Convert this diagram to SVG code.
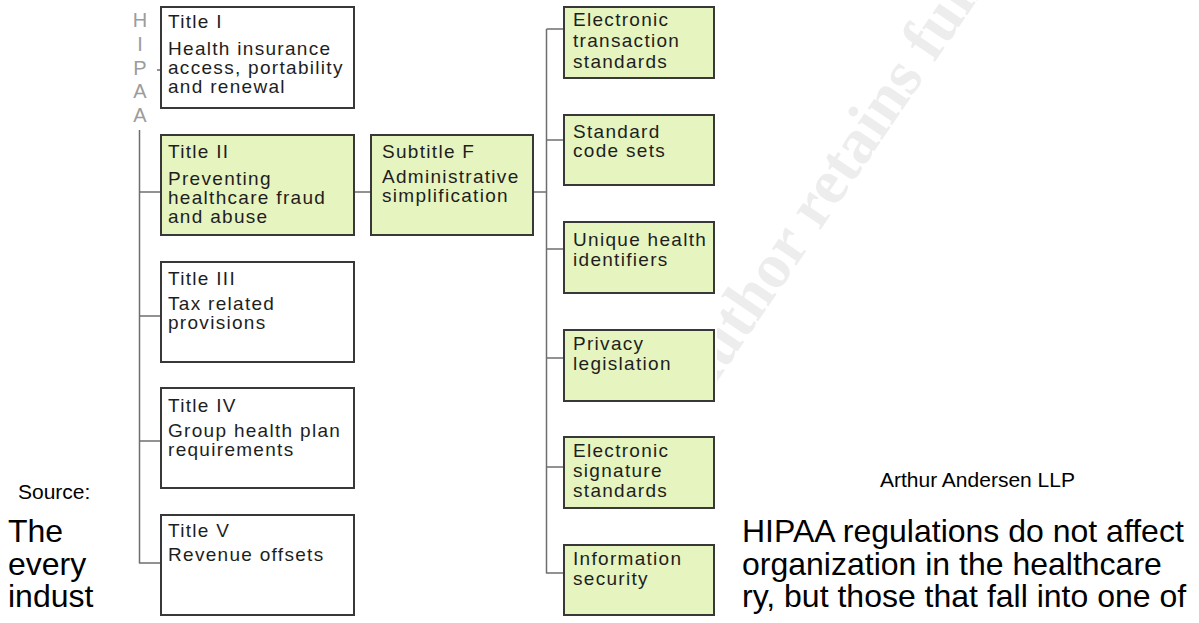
<svg xmlns="http://www.w3.org/2000/svg" width="1199" height="623" viewBox="0 0 1199 623">
<style>
.wm{font-family:"Liberation Serif","Times New Roman",serif;font-weight:bold;font-size:64px;fill:#ededed}
.box{stroke:#383838;stroke-width:2}
.g{fill:#e6f4bf}
.w{fill:#ffffff}
.t{font-family:"Liberation Sans",Arial,Helvetica,sans-serif;font-size:19px;letter-spacing:1.3px;fill:#1e1e1e}
.h{font-family:"Liberation Sans",Arial,Helvetica,sans-serif;font-size:20px;fill:#9c9c9c;text-anchor:middle}
.c{stroke:#6e6e6e;stroke-width:1.5;fill:none}
.s{font-family:"Liberation Sans",Arial,Helvetica,sans-serif;font-size:21px;fill:#000}
.b{font-family:"Liberation Sans",Arial,Helvetica,sans-serif;font-size:32px;fill:#000}
</style>
<rect width="1199" height="623" fill="#ffffff"/>
<text class="wm" transform="translate(699,408) rotate(-55.7)">Author retains full rights.</text>
<rect x="98" y="0" width="619" height="623" fill="#ffffff"/>
<g id="hipaa-label">
<text class="h" x="140" y="27">H</text>
<text class="h" x="140" y="51">I</text>
<text class="h" x="140" y="75">P</text>
<text class="h" x="140" y="98">A</text>
<text class="h" x="140" y="122">A</text>
</g>
<g id="connectors">
<path class="c" d="M139.5 130V563.5"/>
<path class="c" d="M157 70H161"/>
<path class="c" d="M139.5 192H161"/>
<path class="c" d="M139.5 316H161"/>
<path class="c" d="M139.5 441H161"/>
<path class="c" d="M139.5 563H161"/>
<path class="c" d="M354 192H371"/>
<path class="c" d="M533 192H546.5"/>
<path class="c" d="M546.5 29V573.5"/>
<path class="c" d="M546.5 29H564"/>
<path class="c" d="M546.5 140H564"/>
<path class="c" d="M546.5 249H564"/>
<path class="c" d="M546.5 358H564"/>
<path class="c" d="M546.5 467H564"/>
<path class="c" d="M546.5 573H564"/>
</g>
<g id="title1">
<rect class="box w" x="161" y="7" width="193" height="101"/>
<text class="t" x="168" y="28">Title I</text>
<text class="t" x="168" y="55">Health insurance</text>
<text class="t" x="168" y="74">access, portability</text>
<text class="t" x="168" y="93">and renewal</text>
</g>
<g id="title2">
<rect class="box g" x="161" y="135" width="193" height="100"/>
<text class="t" x="168" y="158">Title II</text>
<text class="t" x="168" y="185">Preventing</text>
<text class="t" x="168" y="204">healthcare fraud</text>
<text class="t" x="168" y="223">and abuse</text>
</g>
<g id="title3">
<rect class="box w" x="161" y="262" width="193" height="100"/>
<text class="t" x="168" y="285">Title III</text>
<text class="t" x="168" y="310">Tax related</text>
<text class="t" x="168" y="329">provisions</text>
</g>
<g id="title4">
<rect class="box w" x="161" y="388" width="193" height="100"/>
<text class="t" x="168" y="412">Title IV</text>
<text class="t" x="168" y="437">Group health plan</text>
<text class="t" x="168" y="456">requirements</text>
</g>
<g id="title5">
<rect class="box w" x="161" y="515" width="193" height="100"/>
<text class="t" x="168" y="537">Title V</text>
<text class="t" x="168" y="561">Revenue offsets</text>
</g>
<g id="subtitleF">
<rect class="box g" x="371" y="135" width="162" height="100"/>
<text class="t" x="382" y="158">Subtitle F</text>
<text class="t" x="382" y="183">Administrative</text>
<text class="t" x="382" y="202">simplification</text>
</g>
<g id="electronic-transaction">
<rect class="box g" x="564" y="7" width="150" height="71"/>
<text class="t" x="573" y="26">Electronic</text>
<text class="t" x="573" y="47">transaction</text>
<text class="t" x="573" y="68">standards</text>
</g>
<g id="code-sets">
<rect class="box g" x="564" y="115" width="150" height="70"/>
<text class="t" x="573" y="138">Standard</text>
<text class="t" x="573" y="157">code sets</text>
</g>
<g id="identifiers">
<rect class="box g" x="564" y="222" width="150" height="71"/>
<text class="t" x="573" y="246">Unique health</text>
<text class="t" x="573" y="266">identifiers</text>
</g>
<g id="privacy">
<rect class="box g" x="564" y="330" width="150" height="71"/>
<text class="t" x="573" y="350">Privacy</text>
<text class="t" x="573" y="370">legislation</text>
</g>
<g id="signature">
<rect class="box g" x="564" y="437" width="150" height="71"/>
<text class="t" x="573" y="457">Electronic</text>
<text class="t" x="573" y="477">signature</text>
<text class="t" x="573" y="497">standards</text>
</g>
<g id="security">
<rect class="box g" x="564" y="545" width="150" height="70"/>
<text class="t" x="573" y="565">Information</text>
<text class="t" x="573" y="585">security</text>
</g>
<g id="page-text">
<text class="s" x="18" y="499">Source:</text>
<text class="s" x="880" y="487">Arthur Andersen LLP</text>
<text class="b" x="8" y="542">The</text>
<text class="b" x="8" y="575">every</text>
<text class="b" x="8" y="607">indust</text>
<text class="b" x="742" y="542">HIPAA regulations do not affect</text>
<text class="b" x="742" y="575">organization in the healthcare</text>
<text class="b" x="742" y="607">ry, but those that fall into one of</text>
</g>
</svg>
